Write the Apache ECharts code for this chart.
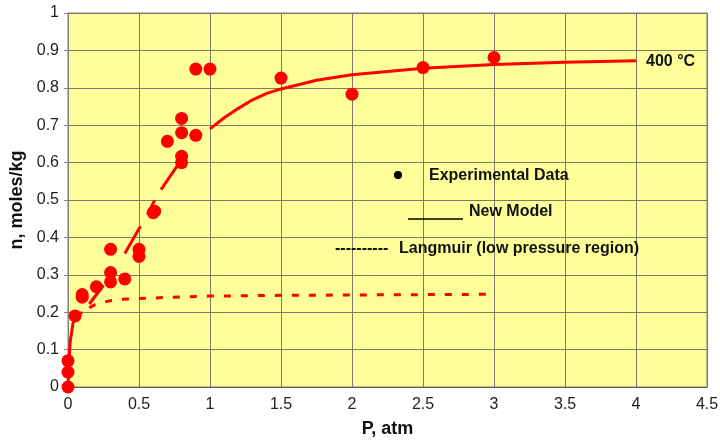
<!DOCTYPE html>
<html>
<head>
<meta charset="utf-8">
<script src="https://cdn.jsdelivr.net/npm/echarts@6/dist/echarts.min.js"></script>
<style>
html,body{margin:0;padding:0;background:#fff;}
#c{width:720px;height:443px;}
</style>
</head>
<body>
<div id="c"></div>
<script>
// Experimental data [P (atm), n (moles/kg)]
var expData = [
  [0,0],[0,0.04],[0,0.07],
  [0.05,0.19],
  [0.1,0.247],[0.1,0.24],
  [0.2,0.268],
  [0.3,0.368],[0.3,0.306],[0.3,0.281],
  [0.4,0.289],
  [0.5,0.368],[0.5,0.349],
  [0.6,0.466],[0.61,0.47],
  [0.7,0.657],
  [0.8,0.617],[0.8,0.6],[0.8,0.68],[0.8,0.718],
  [0.9,0.673],[0.9,0.85],
  [1.0,0.85],
  [1.5,0.826],
  [2.0,0.783],
  [2.5,0.854],
  [3.0,0.881]
];
// New model curve (null entries break the line, as in the original)
var modelData = [
  [0,0],[0.005,0.05],[0.015,0.12],[0.035,0.17],[0.06,0.19],[0.1,0.2],
  [0.12,null],
  [0.15,0.222],[0.25,0.272],
  [0.3,null],
  [0.4,0.357],[0.51,0.43],
  [0.53,null],
  [0.56,0.461],[0.61,0.499],
  [0.63,null],
  [0.655,0.528],[0.785,0.6],
  [0.9,null],
  [1.0,0.69],[1.1,0.72],[1.2,0.745],[1.3,0.768],[1.4,0.785],[1.5,0.797],
  [1.75,0.82],[2.0,0.835],[2.5,0.852],[3.0,0.862],[3.5,0.868],[4.0,0.872]
];
// Langmuir (low pressure region)
var langmuirData = [
  [0.15,0.212],[0.2,0.222],[0.3,0.231],[0.4,0.235],[0.6,0.238],[0.8,0.241],
  [1.0,0.243],[1.5,0.245],[2.0,0.246],[2.5,0.247],[3.0,0.248]
];
var xTicks = [0,0.5,1,1.5,2,2.5,3,3.5,4,4.5];
var yTicks = [0,0.1,0.2,0.3,0.4,0.5,0.6,0.7,0.8,0.9,1];

var chart = echarts.init(document.getElementById('c'));
var FONT = '"Liberation Sans", Arial, sans-serif';
function txt(x, y, s) {
  return {type: 'text', x: x, y: y, z: 10,
    style: {text: s, font: 'bold 16px ' + FONT, fill: '#111', align: 'left', verticalAlign: 'middle'}};
}
var option = {
  animation: false,
  backgroundColor: '#ffffff',
  grid: {left: 68, right: 13, top: 13, bottom: 56, show: true,
         containLabel: false, outerBoundsMode: 'none',
         backgroundColor: '#FFFF99', borderColor: '#808080', borderWidth: 1},
  xAxis: {
    type: 'value', min: xTicks[0], max: xTicks[xTicks.length-1], interval: 0.5,
    name: 'P, atm', nameLocation: 'middle', nameGap: 33,
    nameTextStyle: {fontFamily: FONT, fontSize: 18, fontWeight: 'bold', color: '#111'},
    axisLine: {show: true, lineStyle: {color: '#606060', width: 1}},
    axisTick: {show: false},
    axisLabel: {fontFamily: FONT, fontSize: 16, color: '#222', margin: 10,
      formatter: function(v){ return String(v); }},
    splitLine: {show: true, lineStyle: {color: '#7a7a6a', width: 1}}
  },
  yAxis: {
    type: 'value', min: yTicks[0], max: yTicks[yTicks.length-1], interval: 0.1,
    name: 'n, moles/kg', nameLocation: 'middle', nameGap: 34, nameRotate: 90,
    nameTextStyle: {fontFamily: FONT, fontSize: 18, fontWeight: 'bold', color: '#111'},
    axisLine: {show: true, lineStyle: {color: '#808080', width: 1}},
    axisTick: {show: true, length: 4, lineStyle: {color: '#808080'}},
    axisLabel: {fontFamily: FONT, fontSize: 16, color: '#222', margin: 9,
      formatter: function(v){ return String(Math.round(v*10)/10); }},
    splitLine: {show: true, lineStyle: {color: '#7a7a6a', width: 1}}
  },
  series: [
    {type: 'line', data: langmuirData, showSymbol: false, symbol: 'none',
     connectNulls: false, z: 2,
     lineStyle: {color: '#ff0000', width: 3, type: [7, 10]}},
    {type: 'line', data: modelData, showSymbol: false, symbol: 'none',
     connectNulls: false, smooth: false, z: 3,
     lineStyle: {color: '#ff0000', width: 3}},
    {type: 'scatter', data: expData, symbol: 'circle', symbolSize: 13, z: 4,
     itemStyle: {color: '#ff0000', opacity: 1}}
  ],
  graphic: [
    txt(646, 62, '400 °C'),
    {type: 'circle', shape: {cx: 398, cy: 175, r: 4}, z: 10, style: {fill: '#000'}},
    txt(429, 176, 'Experimental Data'),
    {type: 'line', shape: {x1: 408, y1: 219, x2: 463, y2: 219}, z: 10,
     style: {stroke: '#000', lineWidth: 1.5}},
    txt(469, 212, 'New Model'),
    txt(335, 249, '----------'),
    txt(399, 249, 'Langmuir (low pressure region)')
  ]
};
chart.setOption(option);
</script>
</body>
</html>
